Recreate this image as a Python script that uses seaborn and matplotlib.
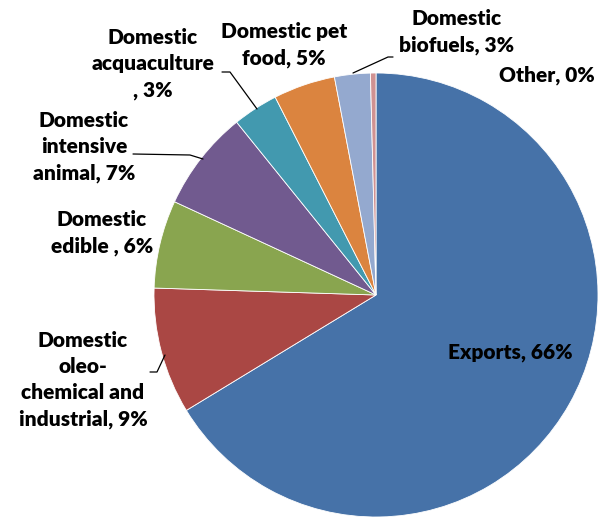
import matplotlib
matplotlib.use("Agg")
import matplotlib.pyplot as plt
import seaborn as sns

# pie data (percent of total)
labels = ["Exports", "Domestic oleo-chemical and industrial", "Domestic edible",
          "Domestic intensive animal", "Domestic acquaculture", "Domestic pet food",
          "Domestic biofuels", "Other"]
values = [66.3, 9.2, 6.4, 7.3, 3.3, 4.5, 2.6, 0.4]
shown_pct = ["66%", "9%", "6%", "7%", "3%", "5%", "3%", "0%"]
colors = ["#4672A8", "#AA4744", "#89A54F", "#715A8F", "#4299AF", "#DB843F", "#94A9CF", "#D09292"]

# label texts as they appear on the chart
label_texts = ["Exports, " + shown_pct[0],
               "Domestic\noleo-\nchemical and\nindustrial, " + shown_pct[1],
               "Domestic\nedible , " + shown_pct[2],
               "Domestic\nintensive\nanimal, " + shown_pct[3],
               "Domestic\nacquaculture\n, " + shown_pct[4],
               "Domestic pet\nfood, " + shown_pct[5],
               "Domestic\nbiofuels, " + shown_pct[6],
               "Other, " + shown_pct[7]]

sns.set_theme(style="white")
plt.rcParams['font.family'] = ['Lato', 'DejaVu Sans']

H = 519
fig = plt.figure(figsize=(6, 5.19), dpi=100)
ax = fig.add_axes([0, 0, 1, 1])

ax.pie(values, colors=colors, startangle=90, counterclock=False,
       center=(376, H - 295), radius=222,
       wedgeprops=dict(linewidth=0.6, edgecolor="white"))

# pie() resets the limits, so set the pixel frame afterwards
ax.set_xlim(0, 600)
ax.set_ylim(0, H)
ax.set_aspect("equal")
ax.axis("off")

# label positions in pixels (x center, y center) from the top-left corner
label_pos = [(510, 353), (83, 380), (102, 233), (84, 147), (153, 64),
             (284, 45), (457, 32), (547, 75)]
for txt, (x, y) in zip(label_texts, label_pos):
    ax.text(x, H - y, txt, ha="center", va="center", fontsize=15,
            fontweight="heavy", color="black", linespacing=1.45)

# leader lines
leaders = [
    [(222, 72), (230, 72), (257, 109)],
    [(133, 154), (190, 155), (203, 159)],
    [(393, 57), (388, 57), (353, 73)],
    [(150, 372), (157, 372), (165, 355)],
]
for pts in leaders:
    xs = [p[0] for p in pts]
    ys = [H - p[1] for p in pts]
    ax.plot(xs, ys, color="black", linewidth=0.9)

fig.savefig("out.png", dpi=100)
